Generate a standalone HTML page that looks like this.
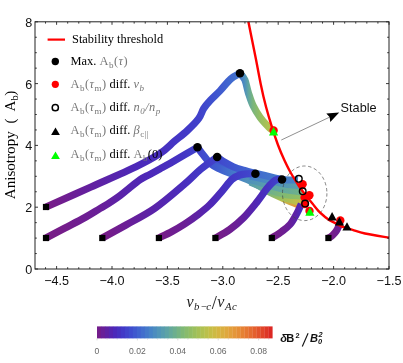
<!DOCTYPE html>
<html><head><meta charset="utf-8"><title>plot</title>
<style>
html,body{margin:0;padding:0;background:#fff;}
body{width:403px;height:363px;overflow:hidden;position:relative;font-family:"Liberation Sans",sans-serif;}
svg{position:absolute;left:0;top:0;display:block;will-change:transform}
.tk text{font-family:"Liberation Sans",sans-serif;font-size:12.6px;fill:#111}
.lg text{font-family:"Liberation Serif",serif;font-size:12.4px;fill:#000}
.g{fill:#777;letter-spacing:0.45px}
.i{font-style:italic;letter-spacing:0.5px}
</style></head><body>
<svg width="403" height="363" viewBox="0 0 403 363">
<defs><linearGradient id="gA1" gradientUnits="userSpaceOnUse" x1="46.1" y1="0" x2="240.0" y2="0"><stop offset="0.000" stop-color="#781c86"/><stop offset="0.232" stop-color="#6220a0"/><stop offset="0.464" stop-color="#4c28b9"/><stop offset="0.587" stop-color="#482fbf"/><stop offset="0.662" stop-color="#4535c4"/><stop offset="0.729" stop-color="#423ac8"/><stop offset="0.788" stop-color="#4141ca"/><stop offset="0.813" stop-color="#4047cc"/><stop offset="0.846" stop-color="#3f4ece"/><stop offset="0.898" stop-color="#405acf"/><stop offset="0.952" stop-color="#4169cf"/><stop offset="1.000" stop-color="#4477cb"/></linearGradient><linearGradient id="gA2" gradientUnits="userSpaceOnUse" x1="240.0" y1="0" x2="273.0" y2="0"><stop offset="0.000" stop-color="#4477cb"/><stop offset="0.148" stop-color="#4e90bc"/><stop offset="0.255" stop-color="#61a6a0"/><stop offset="0.397" stop-color="#7bb67b"/><stop offset="0.609" stop-color="#94be62"/><stop offset="0.858" stop-color="#afc150"/><stop offset="1.000" stop-color="#c6be46"/></linearGradient><linearGradient id="gB1" gradientUnits="userSpaceOnUse" x1="46.0" y1="0" x2="197.5" y2="0"><stop offset="0.000" stop-color="#781c86"/><stop offset="0.125" stop-color="#741d8b"/><stop offset="0.257" stop-color="#6d1e93"/><stop offset="0.356" stop-color="#691f98"/><stop offset="0.422" stop-color="#6220a0"/><stop offset="0.488" stop-color="#5b22a8"/><stop offset="0.554" stop-color="#5525af"/><stop offset="0.620" stop-color="#5026b4"/><stop offset="0.686" stop-color="#4c28b9"/><stop offset="0.752" stop-color="#4a2cbc"/><stop offset="0.818" stop-color="#482fbf"/><stop offset="0.911" stop-color="#4436c5"/><stop offset="1.000" stop-color="#4143cb"/></linearGradient><linearGradient id="gf0" gradientUnits="userSpaceOnUse" x1="211.0" y1="0" x2="252.0" y2="0"><stop offset="0.000" stop-color="#3f50cf"/><stop offset="0.244" stop-color="#405acf"/><stop offset="0.488" stop-color="#4169cf"/><stop offset="0.732" stop-color="#4477cb"/><stop offset="1.000" stop-color="#4884c5"/></linearGradient><linearGradient id="gB2" gradientUnits="userSpaceOnUse" x1="197.5" y1="0" x2="303.0" y2="0"><stop offset="0.000" stop-color="#4143cb"/><stop offset="0.059" stop-color="#404cce"/><stop offset="0.124" stop-color="#3f55cf"/><stop offset="0.207" stop-color="#405fcf"/><stop offset="0.305" stop-color="#4372cc"/><stop offset="0.403" stop-color="#4884c5"/><stop offset="0.519" stop-color="#569ab1"/><stop offset="0.640" stop-color="#76b481"/><stop offset="0.782" stop-color="#b8c04c"/><stop offset="0.924" stop-color="#e39939"/><stop offset="1.000" stop-color="#e67d33"/></linearGradient><linearGradient id="gf5" gradientUnits="userSpaceOnUse" x1="262.0" y1="0" x2="305.0" y2="0"><stop offset="0.000" stop-color="#6bae91"/><stop offset="0.419" stop-color="#98bf5e"/><stop offset="0.767" stop-color="#bdbf4a"/><stop offset="1.000" stop-color="#d0b842"/></linearGradient><linearGradient id="gf4" gradientUnits="userSpaceOnUse" x1="250.0" y1="0" x2="306.0" y2="0"><stop offset="0.000" stop-color="#589ead"/><stop offset="0.357" stop-color="#6eb08c"/><stop offset="0.625" stop-color="#83ba70"/><stop offset="1.000" stop-color="#98bf5e"/></linearGradient><linearGradient id="gf3" gradientUnits="userSpaceOnUse" x1="248.0" y1="0" x2="302.7" y2="0"><stop offset="0.000" stop-color="#4e90bc"/><stop offset="0.402" stop-color="#5ba1a9"/><stop offset="0.676" stop-color="#64a99b"/><stop offset="1.000" stop-color="#72b286"/></linearGradient><linearGradient id="gf2" gradientUnits="userSpaceOnUse" x1="250.0" y1="0" x2="302.0" y2="0"><stop offset="0.000" stop-color="#4680c8"/><stop offset="0.385" stop-color="#4c8cbf"/><stop offset="0.673" stop-color="#5397b5"/><stop offset="1.000" stop-color="#5ba1a9"/></linearGradient><linearGradient id="gC1" gradientUnits="userSpaceOnUse" x1="102.3" y1="0" x2="217.2" y2="0"><stop offset="0.000" stop-color="#781c86"/><stop offset="0.206" stop-color="#6b1e96"/><stop offset="0.458" stop-color="#5923aa"/><stop offset="0.709" stop-color="#492dbe"/><stop offset="0.859" stop-color="#4338c6"/><stop offset="1.000" stop-color="#4143cb"/></linearGradient><linearGradient id="gC2" gradientUnits="userSpaceOnUse" x1="217.2" y1="0" x2="298.0" y2="0"><stop offset="0.000" stop-color="#4143cb"/><stop offset="0.069" stop-color="#404cce"/><stop offset="0.198" stop-color="#3f55cf"/><stop offset="0.327" stop-color="#405fcf"/><stop offset="0.473" stop-color="#4169cf"/><stop offset="0.592" stop-color="#4372cc"/><stop offset="0.802" stop-color="#457bc9"/><stop offset="1.000" stop-color="#4884c5"/></linearGradient><linearGradient id="gD1" gradientUnits="userSpaceOnUse" x1="158.9" y1="0" x2="255.4" y2="0"><stop offset="0.000" stop-color="#781c86"/><stop offset="0.136" stop-color="#6f1e90"/><stop offset="0.267" stop-color="#6b1e96"/><stop offset="0.395" stop-color="#5e22a5"/><stop offset="0.524" stop-color="#5026b4"/><stop offset="0.653" stop-color="#482fbf"/><stop offset="0.755" stop-color="#4338c6"/><stop offset="0.838" stop-color="#413ec9"/><stop offset="0.913" stop-color="#4143cb"/><stop offset="1.000" stop-color="#404cce"/></linearGradient><linearGradient id="gE1" gradientUnits="userSpaceOnUse" x1="215.4" y1="0" x2="282.0" y2="0"><stop offset="0.000" stop-color="#781c86"/><stop offset="0.216" stop-color="#6f1e90"/><stop offset="0.425" stop-color="#6220a0"/><stop offset="0.604" stop-color="#5026b4"/><stop offset="0.782" stop-color="#4633c2"/><stop offset="0.902" stop-color="#413ec9"/><stop offset="1.000" stop-color="#4047cc"/></linearGradient><linearGradient id="gF1" gradientUnits="userSpaceOnUse" x1="271.8" y1="0" x2="301.3" y2="0"><stop offset="0.000" stop-color="#781c86"/><stop offset="0.346" stop-color="#6f1e90"/><stop offset="0.617" stop-color="#661f9b"/><stop offset="0.831" stop-color="#5923aa"/><stop offset="1.000" stop-color="#4a2cbc"/></linearGradient><linearGradient id="gG1" gradientUnits="userSpaceOnUse" x1="328.4" y1="0" x2="340.0" y2="0"><stop offset="0.000" stop-color="#781c86"/><stop offset="0.353" stop-color="#741d8b"/><stop offset="0.681" stop-color="#6f1e90"/><stop offset="0.879" stop-color="#6d1e93"/><stop offset="1.000" stop-color="#6b1e96"/></linearGradient></defs>
<rect width="403" height="363" fill="#fff"/>
<g fill="none" stroke-width="7.2" stroke-linecap="butt" stroke-linejoin="round"><path d="M46.1 207.0C53.6 203.7 76.0 193.7 91.0 187.0C106.0 180.3 124.5 172.4 136.0 166.8C147.5 161.2 153.6 157.8 160.0 153.6C166.4 149.3 169.8 145.2 174.4 141.3C179.0 137.5 183.3 134.3 187.4 130.5C191.5 126.7 196.1 122.1 198.8 118.4C201.5 114.7 201.8 111.5 203.7 108.5C205.6 105.5 207.4 103.5 210.2 100.5C212.9 97.5 216.8 94.2 220.2 90.6C223.6 87.0 227.4 81.9 230.7 79.0C234.0 76.1 238.4 74.2 240.0 73.3" stroke="url(#gA1)"/><path d="M240.0 73.3C240.8 74.4 243.5 76.7 244.9 79.9C246.3 83.2 247.0 88.5 248.4 92.8C249.8 97.1 251.1 101.6 253.1 105.7C255.1 109.8 257.6 113.9 260.1 117.4C262.6 120.9 266.2 124.5 268.3 126.7C270.4 128.9 272.2 129.9 273.0 130.5" stroke="url(#gA2)"/><path d="M46.0 238.0C49.2 236.3 58.5 231.4 65.0 228.0C71.5 224.6 79.2 220.8 85.0 217.5C90.8 214.2 95.8 211.0 100.0 208.5C104.2 206.0 106.7 204.7 110.0 202.5C113.3 200.3 116.7 198.1 120.0 195.6C123.3 193.1 126.7 190.2 130.0 187.5C133.3 184.8 136.7 181.9 140.0 179.7C143.3 177.5 146.7 176.1 150.0 174.3C153.3 172.5 156.7 170.6 160.0 168.8C163.3 167.0 166.0 165.6 170.0 163.3C174.0 161.0 179.4 157.9 184.0 155.2C188.6 152.5 195.2 148.6 197.5 147.3" stroke="url(#gB1)"/><path d="M211.0 162.5C212.7 163.0 217.7 164.1 221.0 165.3C224.3 166.5 227.7 168.5 231.0 169.8C234.3 171.2 237.5 172.1 241.0 173.4C244.5 174.7 250.2 176.8 252.0 177.5" stroke="url(#gf0)"/><path d="M197.5 147.3C198.5 148.7 201.5 152.7 203.7 155.4C205.9 158.2 208.0 161.6 210.6 163.8C213.2 166.0 216.1 167.2 219.3 168.8C222.5 170.4 226.2 171.9 229.7 173.2C233.1 174.5 236.2 175.1 240.0 176.6C243.8 178.1 248.1 179.8 252.3 182.0C256.5 184.2 260.4 187.0 265.0 189.5C269.6 192.0 275.0 194.7 280.0 197.0C285.0 199.3 291.2 201.9 295.0 203.5C298.8 205.1 301.7 206.0 303.0 206.5" stroke="url(#gB2)"/><path d="M262.0 188.5C265.0 189.8 274.5 193.9 280.0 196.0C285.5 198.1 290.8 199.7 295.0 201.0C299.2 202.3 303.3 203.2 305.0 203.6" stroke="url(#gf5)"/><path d="M250.0 182.0C253.3 183.3 264.2 187.9 270.0 190.0C275.8 192.1 279.0 193.4 285.0 194.5C291.0 195.6 302.5 196.2 306.0 196.5" stroke="url(#gf4)"/><path d="M248.0 179.0C251.7 180.1 263.8 183.8 270.0 185.5C276.2 187.2 279.6 188.4 285.0 189.5C290.4 190.6 299.8 191.6 302.7 192.0" stroke="url(#gf3)"/><path d="M250.0 176.0C253.3 176.8 264.2 179.2 270.0 180.5C275.8 181.8 279.7 183.1 285.0 184.0C290.3 184.9 299.2 185.7 302.0 186.0" stroke="url(#gf2)"/><path d="M102.3 238.0C106.2 235.8 117.2 229.9 126.0 225.0C134.8 220.1 145.3 215.0 154.9 208.3C164.5 201.6 176.1 191.4 183.8 184.8C191.5 178.2 195.4 173.6 201.0 169.0C206.6 164.4 214.5 159.1 217.2 157.1" stroke="url(#gC1)"/><path d="M217.2 157.1C218.1 157.8 220.1 159.6 222.8 161.2C225.5 162.8 229.7 165.2 233.2 166.7C236.7 168.2 239.9 169.1 243.6 170.2C247.3 171.3 251.8 172.4 255.4 173.3C259.0 174.2 260.6 174.6 265.0 175.6C269.4 176.6 276.5 178.8 282.0 179.5C287.5 180.2 295.3 179.9 298.0 180.0" stroke="url(#gC2)"/><path d="M158.9 238.0C161.1 236.9 167.7 233.8 172.0 231.5C176.3 229.2 180.5 226.7 184.7 224.0C188.9 221.3 192.9 218.6 197.0 215.4C201.1 212.2 205.3 209.0 209.5 205.0C213.7 201.0 218.2 195.6 221.9 191.3C225.6 187.1 228.8 182.2 231.8 179.5C234.8 176.8 237.3 175.9 239.8 175.0C242.3 174.1 244.4 174.0 247.0 173.8C249.6 173.6 254.0 173.7 255.4 173.7" stroke="url(#gD1)"/><path d="M215.4 238.0C217.8 236.6 225.1 232.9 229.8 229.5C234.5 226.1 239.4 221.9 243.7 217.6C248.0 213.3 251.6 208.6 255.6 203.7C259.6 198.8 264.2 191.8 267.5 187.9C270.8 184.0 273.1 181.6 275.5 180.2C277.9 178.8 280.9 179.6 282.0 179.5" stroke="url(#gE1)"/><path d="M271.8 238.0C273.5 236.9 279.0 233.6 282.0 231.3C285.0 229.1 287.6 227.3 290.0 224.5C292.4 221.7 294.4 217.9 296.3 214.5C298.2 211.1 300.5 205.8 301.3 204.0" stroke="url(#gF1)"/><path d="M328.4 238.0C329.1 237.6 331.2 236.5 332.5 235.3C333.8 234.1 335.3 232.5 336.3 231.0C337.3 229.5 338.0 228.0 338.6 226.5C339.2 225.0 339.8 222.8 340.0 222.0" stroke="url(#gG1)"/></g>
<ellipse cx="304.7" cy="193.3" rx="22.2" ry="27.3" fill="none" stroke="#444" stroke-width="0.65" stroke-dasharray="3.4 2.6"/>
<path d="M248.4 21.8C249.3 26.5 252.8 43.6 254.1 50.0C255.4 56.4 255.0 54.4 256.1 60.0C257.2 65.6 259.0 75.6 260.6 83.4C262.2 91.2 264.1 99.6 266.0 106.8C267.9 114.0 269.8 120.3 271.8 126.7C273.8 133.1 275.9 139.4 278.0 145.0C280.1 150.6 282.2 155.5 284.3 160.0C286.4 164.5 287.9 167.7 290.3 172.0C292.7 176.3 296.4 182.1 298.8 185.8C301.2 189.5 302.7 191.2 305.0 194.2C307.3 197.2 310.1 200.8 312.4 203.6C314.7 206.4 316.5 208.9 318.6 211.1C320.7 213.3 322.9 215.1 324.8 216.7C326.7 218.2 327.7 219.2 329.8 220.4C331.9 221.6 334.9 223.0 337.2 224.1C339.5 225.2 340.8 226.1 343.4 227.0C346.0 227.9 349.0 228.7 352.6 229.8C356.2 230.9 358.9 232.2 365.0 233.5C371.1 234.8 385.0 237.0 389.0 237.7" fill="none" stroke="#f00" stroke-width="2.4"/>
<g fill="#000"><rect x="42.9" y="203.9" width="6.2" height="6.2"/><rect x="42.9" y="234.9" width="6.2" height="6.2"/><rect x="99.2" y="234.9" width="6.2" height="6.2"/><rect x="155.8" y="234.9" width="6.2" height="6.2"/><rect x="212.3" y="234.9" width="6.2" height="6.2"/><rect x="268.7" y="234.9" width="6.2" height="6.2"/><rect x="325.3" y="234.9" width="6.2" height="6.2"/><circle cx="240.0" cy="73.3" r="4.25"/><circle cx="197.5" cy="147.3" r="4.25"/><circle cx="217.2" cy="157.1" r="4.25"/><circle cx="255.4" cy="173.7" r="4.25"/><circle cx="282.0" cy="179.5" r="4.25"/></g>
<circle cx="302.6" cy="184.3" r="4.2" fill="#f00"/><circle cx="309.4" cy="195.3" r="4.2" fill="#f00"/><circle cx="305.0" cy="204.0" r="4.2" fill="#f00"/><circle cx="340.3" cy="220.4" r="4.2" fill="#f00"/><circle cx="273.6" cy="130.5" r="4.2" fill="#f00"/><circle cx="309.5" cy="211.0" r="4.2" fill="#f00"/><circle cx="304.6" cy="197.6" r="4.2" fill="#f00"/><circle cx="298.8" cy="178.8" r="3.3" fill="none" stroke="#000" stroke-width="1.4"/><circle cx="302.7" cy="191.3" r="3.3" fill="none" stroke="#000" stroke-width="1.4"/><circle cx="305.1" cy="203.6" r="3.3" fill="none" stroke="#000" stroke-width="1.4"/><path d="M273.6 127.1L278.2 135.5L269.0 135.5Z" fill="#0f0"/><path d="M309.9 207.4L314.5 215.8L305.3 215.8Z" fill="#0f0"/><path d="M332.1 212.0L336.7 220.4L327.5 220.4Z" fill="#000"/><path d="M339.4 217.0L344.0 225.4L334.8 225.4Z" fill="#000"/><path d="M347.0 222.2L351.6 230.6L342.4 230.6Z" fill="#000"/>
<path d="M281.3 140L331 116.5" stroke="#333" stroke-width="0.55" fill="none"/>
<path d="M339.2 112.6L326.3 113.6L329.6 116.9L330.3 122Z" fill="#000"/>
<rect x="35" y="21.8" width="354" height="247.2" fill="none" stroke="#222" stroke-width="1"/>
<path d="M45.52 269.00L45.52 267.20M45.52 21.80L45.52 23.60M56.60 269.00L56.60 266.00M56.60 21.80L56.60 24.80M67.68 269.00L67.68 267.20M67.68 21.80L67.68 23.60M78.76 269.00L78.76 267.20M78.76 21.80L78.76 23.60M89.84 269.00L89.84 267.20M89.84 21.80L89.84 23.60M100.92 269.00L100.92 267.20M100.92 21.80L100.92 23.60M112.00 269.00L112.00 266.00M112.00 21.80L112.00 24.80M123.08 269.00L123.08 267.20M123.08 21.80L123.08 23.60M134.16 269.00L134.16 267.20M134.16 21.80L134.16 23.60M145.24 269.00L145.24 267.20M145.24 21.80L145.24 23.60M156.32 269.00L156.32 267.20M156.32 21.80L156.32 23.60M167.40 269.00L167.40 266.00M167.40 21.80L167.40 24.80M178.48 269.00L178.48 267.20M178.48 21.80L178.48 23.60M189.56 269.00L189.56 267.20M189.56 21.80L189.56 23.60M200.64 269.00L200.64 267.20M200.64 21.80L200.64 23.60M211.72 269.00L211.72 267.20M211.72 21.80L211.72 23.60M222.80 269.00L222.80 266.00M222.80 21.80L222.80 24.80M233.88 269.00L233.88 267.20M233.88 21.80L233.88 23.60M244.96 269.00L244.96 267.20M244.96 21.80L244.96 23.60M256.04 269.00L256.04 267.20M256.04 21.80L256.04 23.60M267.12 269.00L267.12 267.20M267.12 21.80L267.12 23.60M278.20 269.00L278.20 266.00M278.20 21.80L278.20 24.80M289.28 269.00L289.28 267.20M289.28 21.80L289.28 23.60M300.36 269.00L300.36 267.20M300.36 21.80L300.36 23.60M311.44 269.00L311.44 267.20M311.44 21.80L311.44 23.60M322.52 269.00L322.52 267.20M322.52 21.80L322.52 23.60M333.60 269.00L333.60 266.00M333.60 21.80L333.60 24.80M344.68 269.00L344.68 267.20M344.68 21.80L344.68 23.60M355.76 269.00L355.76 267.20M355.76 21.80L355.76 23.60M366.84 269.00L366.84 267.20M366.84 21.80L366.84 23.60M377.92 269.00L377.92 267.20M377.92 21.80L377.92 23.60M389.00 269.00L389.00 266.00M389.00 21.80L389.00 24.80M35.00 269.00L38.00 269.00M389.00 269.00L386.00 269.00M35.00 253.55L36.80 253.55M389.00 253.55L387.20 253.55M35.00 238.10L36.80 238.10M389.00 238.10L387.20 238.10M35.00 222.65L36.80 222.65M389.00 222.65L387.20 222.65M35.00 207.20L38.00 207.20M389.00 207.20L386.00 207.20M35.00 191.75L36.80 191.75M389.00 191.75L387.20 191.75M35.00 176.30L36.80 176.30M389.00 176.30L387.20 176.30M35.00 160.85L36.80 160.85M389.00 160.85L387.20 160.85M35.00 145.40L38.00 145.40M389.00 145.40L386.00 145.40M35.00 129.95L36.80 129.95M389.00 129.95L387.20 129.95M35.00 114.50L36.80 114.50M389.00 114.50L387.20 114.50M35.00 99.05L36.80 99.05M389.00 99.05L387.20 99.05M35.00 83.60L38.00 83.60M389.00 83.60L386.00 83.60M35.00 68.15L36.80 68.15M389.00 68.15L387.20 68.15M35.00 52.70L36.80 52.70M389.00 52.70L387.20 52.70M35.00 37.25L36.80 37.25M389.00 37.25L387.20 37.25M35.00 21.80L38.00 21.80M389.00 21.80L386.00 21.80" stroke="#222" stroke-width="0.9" fill="none"/>
<g class="tk"><text x="56.6" y="285.2" text-anchor="middle">−4.5</text><text x="112.0" y="285.2" text-anchor="middle">−4.0</text><text x="167.4" y="285.2" text-anchor="middle">−3.5</text><text x="222.8" y="285.2" text-anchor="middle">−3.0</text><text x="278.2" y="285.2" text-anchor="middle">−2.5</text><text x="333.6" y="285.2" text-anchor="middle">−2.0</text><text x="389.0" y="285.2" text-anchor="middle">−1.5</text><text x="32.3" y="273.9" text-anchor="end">0</text><text x="32.3" y="212.1" text-anchor="end">2</text><text x="32.3" y="150.3" text-anchor="end">4</text><text x="32.3" y="88.5" text-anchor="end">6</text><text x="32.3" y="26.7" text-anchor="end">8</text>
<text x="340.6" y="111.8" style="font-size:12.7px">Stable</text></g>
<g class="lg">
<path d="M47.6 39.6H65" stroke="#f00" stroke-width="2.2"/>
<circle cx="55.3" cy="61.5" r="3.7"/>
<circle cx="55.3" cy="84.3" r="3.6" fill="#f00"/>
<circle cx="55.3" cy="107.7" r="3.1" fill="#fff" stroke="#000" stroke-width="1.5"/>
<path d="M55.5 127.5L59.9 135.1L51.1 135.1Z" fill="#000"/><path d="M55.5 151.5L59.9 159.1L51.1 159.1Z" fill="#0f0"/>
<text x="72" y="43.4">Stability threshold</text>
<text x="70.6" y="65.4">Max. <tspan class="g">A<tspan dy="2.5" font-size="9">b</tspan><tspan dy="-2.5">(</tspan><tspan class="i">τ</tspan>)</tspan></text>
<text x="70.6" y="88.4"><tspan class="g">A<tspan dy="2.5" font-size="9">b</tspan><tspan dy="-2.5">(</tspan><tspan class="i">τ</tspan><tspan dy="2.5" font-size="9">m</tspan><tspan dy="-2.5">)</tspan></tspan> diff. <tspan class="g i">v<tspan dy="2.5" font-size="9">b</tspan></tspan></text>
<text x="70.6" y="111"><tspan class="g">A<tspan dy="2.5" font-size="9">b</tspan><tspan dy="-2.5">(</tspan><tspan class="i">τ</tspan><tspan dy="2.5" font-size="9">m</tspan><tspan dy="-2.5">)</tspan></tspan> diff. <tspan class="g i">n<tspan dy="2.5" font-size="9">0</tspan><tspan dy="-2.5">/n</tspan><tspan dy="2.5" font-size="9">p</tspan></tspan></text>
<text x="70.6" y="134.4"><tspan class="g">A<tspan dy="2.5" font-size="9">b</tspan><tspan dy="-2.5">(</tspan><tspan class="i">τ</tspan><tspan dy="2.5" font-size="9">m</tspan><tspan dy="-2.5">)</tspan></tspan> diff. <tspan class="g i">β</tspan><tspan class="g" dy="2.5" font-size="9">c||</tspan></text>
<text x="70.6" y="158.4"><tspan class="g">A<tspan dy="2.5" font-size="9">b</tspan><tspan dy="-2.5">(</tspan><tspan class="i">τ</tspan><tspan dy="2.5" font-size="9">m</tspan><tspan dy="-2.5">)</tspan></tspan> diff. <tspan class="g">A<tspan dy="2.5" font-size="9">b</tspan></tspan><tspan dy="-2.5">(0)</tspan></text>
</g>
<text transform="translate(14.8 199.2) rotate(-90)" style="font-family:'Liberation Serif',serif;font-size:15.1px" fill="#000"><tspan x="0" y="0">Anisotropy</tspan><tspan x="75.7" y="0">(</tspan><tspan x="87.7" y="0">A</tspan><tspan x="98.7" y="3" font-size="10.5">b</tspan><tspan x="103.4" y="0">)</tspan></text>
<text style="font-family:'Liberation Serif',serif;font-size:16px;font-style:italic" fill="#222"><tspan x="186.4" y="306.5">v</tspan><tspan x="194" y="309.5" font-size="10.8">b</tspan><tspan x="200.4" y="309.5" font-size="10.8">−</tspan><tspan x="206.3" y="309.5" font-size="10.8">c</tspan><tspan x="211.7" y="309" font-size="18.5" style="font-style:normal">/</tspan><tspan x="217.3" y="306.5">v</tspan><tspan x="224.9" y="309.5" font-size="10.8">A</tspan><tspan x="232" y="309.5" font-size="10.8">c</tspan></text>
<rect x="97.00" y="326.4" width="4.28" height="12" fill="#731d8c"/><rect x="100.98" y="326.4" width="4.28" height="12" fill="#691f98"/><rect x="104.97" y="326.4" width="4.28" height="12" fill="#5f21a3"/><rect x="108.95" y="326.4" width="4.28" height="12" fill="#5525af"/><rect x="112.94" y="326.4" width="4.28" height="12" fill="#4c29ba"/><rect x="116.92" y="326.4" width="4.28" height="12" fill="#4731c0"/><rect x="120.90" y="326.4" width="4.28" height="12" fill="#4239c7"/><rect x="124.89" y="326.4" width="4.28" height="12" fill="#4143cb"/><rect x="128.87" y="326.4" width="4.28" height="12" fill="#3f4dce"/><rect x="132.86" y="326.4" width="4.28" height="12" fill="#4058cf"/><rect x="136.84" y="326.4" width="4.28" height="12" fill="#4163cf"/><rect x="140.82" y="326.4" width="4.28" height="12" fill="#426ecd"/><rect x="144.81" y="326.4" width="4.28" height="12" fill="#4479ca"/><rect x="148.79" y="326.4" width="4.28" height="12" fill="#4783c6"/><rect x="152.78" y="326.4" width="4.28" height="12" fill="#4c8cbf"/><rect x="156.76" y="326.4" width="4.28" height="12" fill="#5195b8"/><rect x="160.75" y="326.4" width="4.28" height="12" fill="#579caf"/><rect x="164.73" y="326.4" width="4.28" height="12" fill="#5da3a6"/><rect x="168.71" y="326.4" width="4.28" height="12" fill="#65a99b"/><rect x="172.70" y="326.4" width="4.28" height="12" fill="#6cae8f"/><rect x="176.68" y="326.4" width="4.28" height="12" fill="#75b383"/><rect x="180.67" y="326.4" width="4.28" height="12" fill="#7eb876"/><rect x="184.65" y="326.4" width="4.28" height="12" fill="#88bb6c"/><rect x="188.63" y="326.4" width="4.28" height="12" fill="#91bd64"/><rect x="192.62" y="326.4" width="4.28" height="12" fill="#9bbf5c"/><rect x="196.60" y="326.4" width="4.28" height="12" fill="#a6c056"/><rect x="200.59" y="326.4" width="4.28" height="12" fill="#b0c150"/><rect x="204.57" y="326.4" width="4.28" height="12" fill="#bac04b"/><rect x="208.55" y="326.4" width="4.28" height="12" fill="#c5be46"/><rect x="212.54" y="326.4" width="4.28" height="12" fill="#cdba44"/><rect x="216.52" y="326.4" width="4.28" height="12" fill="#d5b541"/><rect x="220.51" y="326.4" width="4.28" height="12" fill="#daaf3f"/><rect x="224.49" y="326.4" width="4.28" height="12" fill="#dfa83d"/><rect x="228.48" y="326.4" width="4.28" height="12" fill="#e2a03b"/><rect x="232.46" y="326.4" width="4.28" height="12" fill="#e49739"/><rect x="236.44" y="326.4" width="4.28" height="12" fill="#e58e36"/><rect x="240.43" y="326.4" width="4.28" height="12" fill="#e68234"/><rect x="244.41" y="326.4" width="4.28" height="12" fill="#e67732"/><rect x="248.40" y="326.4" width="4.28" height="12" fill="#e56c30"/><rect x="252.38" y="326.4" width="4.28" height="12" fill="#e4602d"/><rect x="256.36" y="326.4" width="4.28" height="12" fill="#e2532b"/><rect x="260.35" y="326.4" width="4.28" height="12" fill="#e14529"/><rect x="264.33" y="326.4" width="4.28" height="12" fill="#de3726"/><rect x="268.32" y="326.4" width="4.28" height="12" fill="#dc2823"/>
<path d="M97.00 338.40L97.00 340.40M107.10 338.40L107.10 339.60M117.20 338.40L117.20 339.60M127.30 338.40L127.30 339.60M137.40 338.40L137.40 340.40M147.50 338.40L147.50 339.60M157.60 338.40L157.60 339.60M167.70 338.40L167.70 339.60M177.80 338.40L177.80 340.40M187.90 338.40L187.90 339.60M198.00 338.40L198.00 339.60M208.10 338.40L208.10 339.60M218.20 338.40L218.20 340.40M228.30 338.40L228.30 339.60M238.40 338.40L238.40 339.60M248.50 338.40L248.50 339.60M258.60 338.40L258.60 340.40M268.70 338.40L268.70 339.60" stroke="#bbb" stroke-width="0.5"/>
<g style="font-family:'Liberation Sans',sans-serif;font-size:8.6px" fill="#666"><text x="97.0" y="354.3" text-anchor="middle">0</text><text x="137.4" y="354.3" text-anchor="middle">0.02</text><text x="177.8" y="354.3" text-anchor="middle">0.04</text><text x="218.2" y="354.3" text-anchor="middle">0.06</text><text x="258.6" y="354.3" text-anchor="middle">0.08</text></g>
<text style="font-family:'Liberation Sans',sans-serif;font-size:11.1px;font-weight:bold" fill="#111"><tspan x="280.2" y="341.8" style="font-style:italic">δ</tspan><tspan x="286.2" y="341.8">B</tspan><tspan x="295.6" y="337.6" font-size="7.4">2</tspan><tspan x="310" y="341.8" style="font-style:italic">B</tspan><tspan x="318.4" y="337.4" font-size="7.4" style="font-style:italic">2</tspan><tspan x="318" y="344.4" font-size="7.4" style="font-style:italic">0</tspan></text>
<path d="M302.3 346.4L308.1 333.3" stroke="#111" stroke-width="1.15" fill="none"/>
</svg>
</body></html>
